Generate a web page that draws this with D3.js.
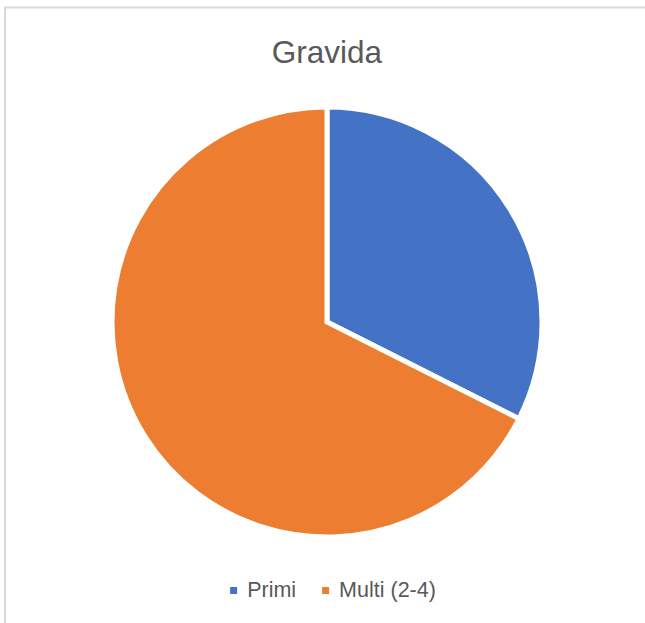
<!DOCTYPE html>
<html>
<head>
<meta charset="utf-8">
<script src="https://cdn.jsdelivr.net/npm/d3@7"></script>
<style>
  html, body { margin: 0; padding: 0; background: #fff; }
  svg { display: block; }
  text { font-family: "Liberation Sans", "DejaVu Sans", sans-serif; }
</style>
</head>
<body>
<svg id="chart" width="645" height="623"></svg>
<script>
// Gravida distribution
const categories = ["Primi", "Multi (2-4)"];
const values = [24, 50];
const colors = ["#4472C4", "#ED7D31"];
const title = "Gravida";

const svg = d3.select("#chart");
const W = 645, H = 623;

// chart frame
svg.append("rect")
  .attr("x", 5).attr("y", 7.5)
  .attr("width", W + 10).attr("height", H + 10)
  .attr("fill", "#fff")
  .attr("stroke", "#d9d9d9")
  .attr("stroke-width", 2);

// title
svg.append("text")
  .attr("x", 327).attr("y", 63)
  .attr("text-anchor", "middle")
  .attr("font-size", 31.5)
  .attr("fill", "#595959")
  .text(title);

// pie
const cx = 327, cy = 322, r = 215;
const pie = d3.pie().sort(null).value(d => d)(values);
const arc = d3.arc().innerRadius(0).outerRadius(r);

svg.append("g")
  .attr("transform", `translate(${cx},${cy})`)
  .selectAll("path")
  .data(pie)
  .join("path")
  .attr("d", arc)
  .attr("fill", (d, i) => colors[i])
  .attr("stroke", "#fff")
  .attr("stroke-width", 5)
  .attr("stroke-linejoin", "miter");

// legend
const legend = svg.append("g");
const items = legend.selectAll("g")
  .data(categories)
  .join("g");
items.append("rect")
  .attr("width", 7).attr("height", 7)
  .attr("y", -10)
  .attr("fill", (d, i) => colors[i]);
items.append("text")
  .attr("x", 17)
  .attr("font-size", 21.5)
  .attr("fill", "#595959")
  .text(d => d);

const gap = 26;
const widths = [];
items.each(function () {
  widths.push(17 + d3.select(this).select("text").node().getComputedTextLength());
});
const total = widths.reduce((a, b) => a + b, 0) + gap * (widths.length - 1);
let start = 333 - total / 2;
items.attr("transform", (d, i) => {
  const x = start;
  start += widths[i] + gap;
  return `translate(${x},597)`;
});
</script>
</body>
</html>
